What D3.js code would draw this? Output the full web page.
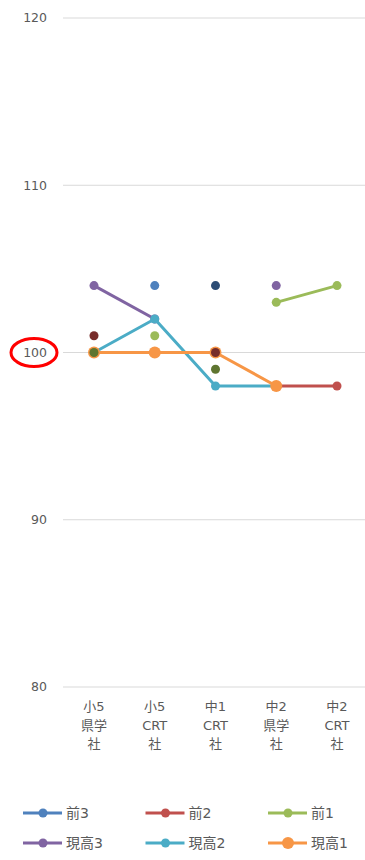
<!DOCTYPE html>
<html><head><meta charset="utf-8">
<script src="https://cdn.jsdelivr.net/npm/d3@7"></script>
<style>body{margin:0;background:#fff}svg{display:block}</style>
</head><body>
<svg id="c" width="365" height="860"></svg>
<script>
const categories = [["小5","県学","社"],["小5","CRT","社"],["中1","CRT","社"],["中2","県学","社"],["中2","CRT","社"]];
const yTicks = [80, 90, 100, 110, 120];
const seriesNames = ["前3","前2","前1","現高3","現高2","現高1"];
const seriesColors = ["#4F81BD","#C0504D","#9BBB59","#8064A2","#4BACC6","#F79646"];
const zen3 = [null, 104, null, null, null];
const zen2 = [null, null, null, 98, 98];
const zen1 = [null, 101, null, 103, 104];
const gen3 = [104, 102, null, 104, null];
const gen2 = [100, 102, 98, 98, null];
const gen1 = [100, 100, 100, 98, null];
const extraColors = ["#2C4D75","#772C2A","#5F7530"];
const extra1 = [null, null, 104, null, null];
const extra2 = [101, null, 100, null, null];
const extra3 = [100, null, 99, null, null];

const seriesValues = [zen3, zen2, zen1, gen3, gen2, gen1];
const extraValues = [extra1, extra2, extra3];

const svg = d3.select("#c");
const font = "'DejaVu Sans','Noto Sans CJK JP',sans-serif";
const y = d3.scaleLinear().domain([80,120]).range([687,18]);
const x = d3.scalePoint().domain(d3.range(categories.length)).range([94,337]);

// grid
svg.append("g").selectAll("line").data(yTicks).join("line")
  .attr("x1",63).attr("x2",365).attr("y1",d=>y(d)).attr("y2",d=>y(d))
  .attr("stroke","#d9d9d9").attr("stroke-width",1);
svg.append("g").selectAll("text").data(yTicks).join("text")
  .attr("x",47).attr("y",d=>y(d)).attr("dy","0.35em").attr("text-anchor","end")
  .attr("font-family",font).attr("font-size",12.5).attr("fill","#595959").text(d=>d);

// category labels
const cl = svg.append("g").selectAll("text").data(categories).join("text")
  .attr("text-anchor","middle").attr("font-family",font).attr("font-size",13).attr("fill","#595959");
cl.each(function(d,i){
  d3.select(this).selectAll("tspan").data(d).join("tspan")
    .attr("x",x(i)).attr("y",(t,j)=>711+j*18.5).text(t=>t);
});

const line = d3.line().defined(d=>d!=null).x((d,i)=>x(i)).y(d=>y(d));
const plot = svg.append("g");
seriesValues.forEach((vals,s)=>{
  plot.append("path").datum(vals).attr("d",line).attr("fill","none")
    .attr("stroke",seriesColors[s]).attr("stroke-width",3).attr("stroke-linejoin","round");
  plot.append("g").selectAll("circle").data(vals.map((v,i)=>({v,i})).filter(d=>d.v!=null)).join("circle")
    .attr("cx",d=>x(d.i)).attr("cy",d=>y(d.v)).attr("r",s===5?6:4.5).attr("fill",seriesColors[s]);
});
extraValues.forEach((vals,s)=>{
  plot.append("g").selectAll("circle").data(vals.map((v,i)=>({v,i})).filter(d=>d.v!=null)).join("circle")
    .attr("cx",d=>x(d.i)).attr("cy",d=>y(d.v)).attr("r",4.5).attr("fill",extraColors[s]);
});

// annotation ellipse around 100
svg.append("ellipse").attr("cx",34).attr("cy",y(100)).attr("rx",23).attr("ry",14)
  .attr("fill","none").attr("stroke","#ff0000").attr("stroke-width",3);

// legend
const lg = svg.append("g").selectAll("g").data(seriesNames).join("g")
  .attr("transform",(d,i)=>`translate(${23+(i%3)*122.5},${813+Math.floor(i/3)*30})`);
lg.append("line").attr("x1",0).attr("x2",39).attr("stroke",(d,i)=>seriesColors[i]).attr("stroke-width",3);
lg.append("circle").attr("cx",20).attr("r",(d,i)=>i===5?6:4.5).attr("fill",(d,i)=>seriesColors[i]);
lg.append("text").attr("x",43).attr("dy","0.35em").attr("font-family",font).attr("font-size",14)
  .attr("fill","#595959").text(d=>d);
</script>
</body></html>
